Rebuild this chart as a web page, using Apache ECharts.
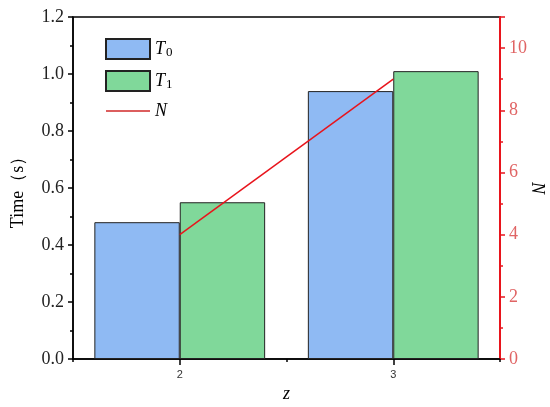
<!DOCTYPE html>
<html>
<head>
<meta charset="utf-8">
<script src="https://cdn.jsdelivr.net/npm/echarts@6/dist/echarts.min.js"></script>
<style>
  html, body { margin: 0; padding: 0; background: #fff; }
  #main { width: 550px; height: 407px; }
</style>
</head>
<body>
<div id="main"></div>
<script>
const zValues = ['2', '3'];
const t0Values = [0.48, 0.94];
const t1Values = [0.55, 1.01];
const nValues = [4, 9];

const chart = echarts.init(document.getElementById('main'));
const serif = 'Liberation Serif';

chart.setOption({
  animation: false,
  grid: {
    left: 73, right: 50, top: 17, bottom: 48, outerBoundsMode: 'none', containLabel: false,
    show: true, borderColor: '#000', borderWidth: 1.5
  },
  legend: {
    left: 100, top: 33, orient: 'vertical',
    itemWidth: 44, itemHeight: 20, itemGap: 10,
    data: [
      { name: 'T0', icon: 'rect' },
      { name: 'T1', icon: 'rect' },
      { name: 'N', itemStyle: { opacity: 0 }, lineStyle: { color: '#d02828', width: 1.5 } }
    ],
    formatter: function (name) { return '{i|' + name[0] + '}{s|' + name.slice(1) + '}'; },
    textStyle: {
      rich: {
        i: { fontFamily: serif, fontStyle: 'italic', fontSize: 18, color: '#000' },
        s: { fontFamily: serif, fontSize: 13, color: '#000', verticalAlign: 'bottom', padding: [8, 0, 0, 1] }
      }
    }
  },
  xAxis: [
    {
      type: 'category', data: zValues, position: 'bottom',
      axisLine: { lineStyle: { color: '#000', width: 1.5 } },
      axisTick: { show: true, alignWithLabel: true, length: 6, lineStyle: { color: '#000', width: 1.5 } },
      axisLabel: { color: '#333', fontSize: 11, margin: 10 },
      name: 'z', nameLocation: 'middle', nameGap: 22,
      nameTextStyle: { fontFamily: serif, fontStyle: 'italic', fontSize: 18, color: '#000' }
    },
    {
      type: 'category', data: zValues, position: 'bottom',
      axisLine: { show: false },
      axisTick: { show: true, alignWithLabel: false, length: 3, lineStyle: { color: '#000', width: 1.5 } },
      axisLabel: { show: false }
    }
  ],
  yAxis: [
    {
      type: 'value', min: 0, max: 1.2, interval: 0.2,
      axisLine: { show: true, lineStyle: { color: '#000', width: 1.5 } },
      axisTick: { show: true, length: 5, lineStyle: { color: '#000', width: 1.5 } },
      minorTick: { show: true, splitNumber: 2, length: 3, lineStyle: { color: '#000', width: 1.5 } },
      splitLine: { show: false },
      axisLabel: { formatter: v => v.toFixed(1), fontFamily: serif, fontSize: 18, color: '#222', margin: 9 },
      name: 'Time（s）', nameLocation: 'middle', nameGap: 46,
      nameTextStyle: { fontFamily: serif, fontSize: 18, color: '#000' }
    },
    {
      type: 'value', min: 0, max: 11, interval: 2,
      position: 'right',
      axisLine: { show: true, lineStyle: { color: '#e8141c', width: 2 } },
      axisTick: { show: true, length: 5, lineStyle: { color: '#e8141c', width: 1.5 } },
      minorTick: { show: true, splitNumber: 2, length: 3, lineStyle: { color: '#e8141c', width: 1.5 } },
      splitLine: { show: false },
      axisLabel: { showMaxLabel: false, fontFamily: serif, fontSize: 18, color: '#e06464', margin: 9 },
      name: 'N', nameLocation: 'middle', nameGap: 28, nameRotate: -90, nameMoveOverlap: false,
      nameTextStyle: { fontFamily: serif, fontStyle: 'italic', fontSize: 18, color: '#000' }
    }
  ],
  series: [
    {
      name: 'T0', type: 'bar', data: t0Values, barWidth: '40%', barGap: '0%',
      itemStyle: { color: '#8fbaf3', borderColor: '#222', borderWidth: 1 }
    },
    {
      name: 'T1', type: 'bar', data: t1Values, barWidth: '40%', barGap: '0%',
      itemStyle: { color: '#80d89a', borderColor: '#222', borderWidth: 1 }
    },
    {
      name: 'N', type: 'line', data: nValues, yAxisIndex: 1, showSymbol: false,
      lineStyle: { color: '#e8141c', width: 1.5 }, itemStyle: { color: '#e8141c' }, z: 5
    }
  ]
});
</script>
</body>
</html>
